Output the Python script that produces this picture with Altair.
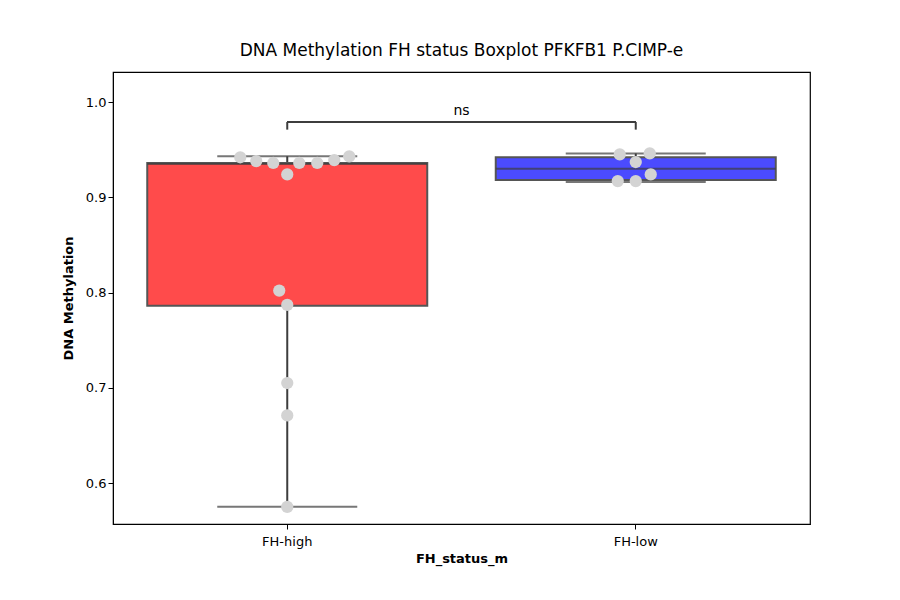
import pandas as pd
import altair as alt

groups = ['FH-high', 'FH-low']
box_q1 = [0.786, 0.918]
box_q3 = [0.936, 0.942]
box_med = [0.935, 0.930]
whisk_lo = [0.575, 0.916]
whisk_hi = [0.943, 0.946]
box_colors = ['#ff4b4b', '#4b4bff']

pt_group = ['FH-high'] * 13 + ['FH-low'] * 6
pt_value = [0.942, 0.938, 0.936, 0.924, 0.936, 0.936, 0.939, 0.943,
            0.802, 0.787, 0.705, 0.671, 0.575,
            0.945, 0.946, 0.937, 0.917, 0.917, 0.924]
pt_dx = [-47, -31, -14, 0, 12, 30, 47, 62, -8, 0, 0, 0, 0,
         -16, 14, 0, -18, 0, 15]

boxes = pd.DataFrame({'g': groups, 'q1': box_q1, 'q3': box_q3, 'med': box_med,
                      'lo': whisk_lo, 'hi': whisk_hi})
points = pd.DataFrame({'g': pt_group, 'v': pt_value, 'dx': pt_dx})
bracket = pd.DataFrame({'g': groups, 'top': [0.979, 0.979], 'bot': [0.971, 0.971]})

font = 'DejaVu Sans'
xenc = alt.X('g:N', title='FH_status_m', sort=groups,
             scale=alt.Scale(paddingInner=0, paddingOuter=0),
             axis=alt.Axis(labelAngle=0, labelFontSize=13, titleFontSize=13,
                           labelFont=font, titleFont=font, grid=False,
                           domainColor='black', tickColor='black', labelColor='black',
                           titleColor='black', labelPadding=6))
yscale = alt.Scale(domain=[0.557, 1.0315], nice=False, zero=False)
yaxis = alt.Axis(values=[0.6, 0.7, 0.8, 0.9, 1.0], format='.1f', grid=False,
                 labelFontSize=13, titleFontSize=13, labelFont=font, titleFont=font,
                 domainColor='black', tickColor='black', labelColor='black',
                 titleColor='black', titlePadding=10)

base = alt.Chart(boxes)
whisk = base.mark_rule(color='#3d3d3d', strokeWidth=2).encode(
    x=xenc, y=alt.Y('lo:Q', scale=yscale, axis=yaxis, title='DNA Methylation'), y2='hi:Q')
caps_lo = base.mark_tick(color='#3d3d3d', size=140, thickness=2).encode(x=xenc, y='lo:Q')
caps_hi = base.mark_tick(color='#3d3d3d', size=140, thickness=2).encode(x=xenc, y='hi:Q')
box = base.mark_bar(size=280, stroke='#555555', strokeWidth=2).encode(
    x=xenc, y='q1:Q', y2='q3:Q',
    color=alt.Color('g:N', scale=alt.Scale(domain=groups, range=box_colors), legend=None))
med = base.mark_tick(color='#3d3d3d', size=280, thickness=2).encode(x=xenc, y='med:Q')
pts = alt.Chart(points).mark_circle(size=150, color='#d3d3d3', opacity=1).encode(
    x=xenc, y='v:Q',
    xOffset=alt.XOffset('dx:Q', scale=alt.Scale(domain=[-174.25, 174.25])))
br = alt.Chart(bracket).mark_rule(color='#3d3d3d', strokeWidth=2).encode(
    x=xenc, y='bot:Q', y2='top:Q')
brh = alt.Chart(pd.DataFrame({'y': [0.979]})).mark_rule(color='#3d3d3d', strokeWidth=2).encode(
    x=alt.value(174), x2=alt.value(523), y='y:Q')
ns = alt.Chart(pd.DataFrame({'y': [0.983], 't': ['ns']})).mark_text(
    fontSize=14, font=font, baseline='bottom', color='black').encode(
    x=alt.value(348.5), y='y:Q', text='t:N')

chart = alt.layer(whisk, caps_lo, caps_hi, box, med, pts, br, brh, ns).properties(
    width=697, height=452,
    autosize=alt.AutoSizeParams(type='none'),
    padding={'left': 105, 'top': 64, 'right': 82, 'bottom': 68},
    title=alt.Title('DNA Methylation FH status Boxplot PFKFB1 P.CIMP-e',
                    fontSize=17, font=font, fontWeight='normal', offset=12, color='black'),
    background='white'
).configure_view(stroke='black', strokeWidth=1.2)

chart.save("out.html", embed_options={"renderer": "svg", "actions": False})
